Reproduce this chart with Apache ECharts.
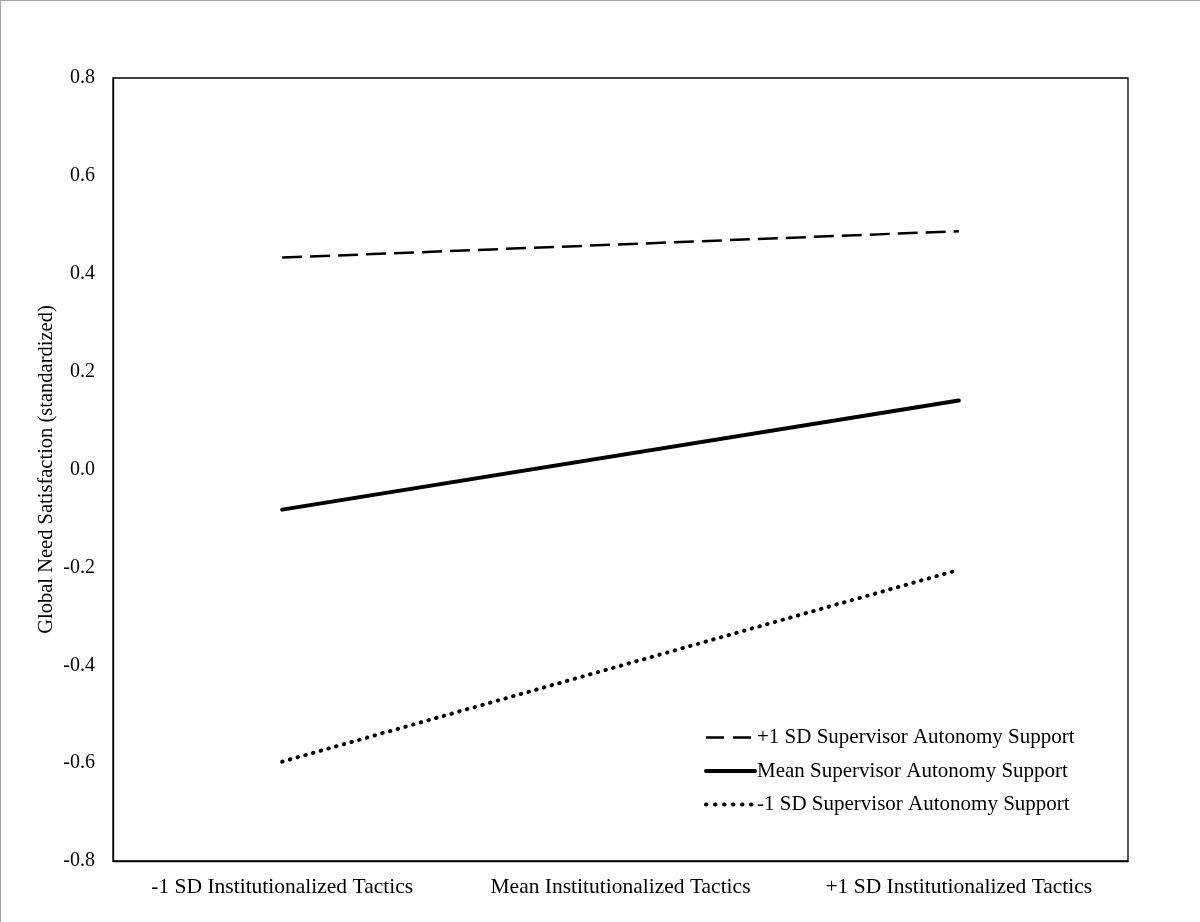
<!DOCTYPE html>
<html>
<head>
<meta charset="utf-8">
<script src="https://cdn.jsdelivr.net/npm/echarts@6/dist/echarts.min.js"></script>
<style>
  html, body { margin: 0; padding: 0; background: #fff; }
  #chart { width: 1200px; height: 922px; box-sizing: border-box; border-top: 1px solid #a6a6a6; border-left: 1px solid #a6a6a6; }
</style>
</head>
<body>
<div id="chart"></div>
<script>
// categories (x axis)
const categories = ["-1 SD Institutionalized Tactics", "Mean Institutionalized Tactics", "+1 SD Institutionalized Tactics"];

// simple slopes (no point drawn at the mean)
const highSupport = [0.433, null, 0.487];
const meanSupport = [-0.082, null, 0.141];
const lowSupport = [-0.597, null, -0.205];

const seriesNames = [
  "+1 SD Supervisor Autonomy Support",
  "Mean Supervisor Autonomy Support",
  "-1 SD Supervisor Autonomy Support"
];

const yTicks = { min: -0.8, max: 0.8, interval: 0.2 };

const FONT = "'Liberation Serif', 'Times New Roman', serif";

const DASHED = { width: 2.5, type: [20, 8] };
const SOLID = { width: 4, type: "solid", cap: "round" };
const DOTTED = { width: 4, type: [0.5, 7.5], cap: "round" };

const chart = echarts.init(document.getElementById("chart"));

function lineSeries(name, data, lineStyle) {
  return {
    name: name,
    type: "line",
    data: data,
    connectNulls: true,
    symbol: "none",
    showSymbol: false,
    silent: true,
    itemStyle: { color: "#000" },
    lineStyle: Object.assign({ color: "#000" }, lineStyle)
  };
}

chart.setOption({
  animation: false,
  textStyle: { fontFamily: FONT },
  grid: {
    left: 112,
    right: 72,
    top: 77,
    bottom: 61,
    show: true,
    borderColor: "#000",
    borderWidth: 1.3,
    backgroundColor: "#fff"
  },
  legend: {
    orient: "vertical",
    left: 698,
    top: 721,
    itemWidth: 49,
    itemHeight: 14,
    itemGap: 12.5,
    selectedMode: false,
    itemStyle: { opacity: 0 },
    textStyle: { fontFamily: FONT, fontSize: 21, color: "#000", padding: [0, 0, 0, -3] },
    data: [
      { name: seriesNames[0], lineStyle: { color: "#000", width: 2.5, type: [18, 9] } },
      { name: seriesNames[1], lineStyle: { color: "#000", width: 4, type: "solid" } },
      { name: seriesNames[2], lineStyle: { color: "#000", width: 4, type: [0.5, 8.5], cap: "round" } }
    ]
  },
  xAxis: {
    type: "category",
    data: categories,
    boundaryGap: true,
    axisLine: { show: true, onZero: false, lineStyle: { color: "#000", width: 1.3 } },
    axisTick: { show: false },
    splitLine: { show: false },
    axisLabel: { interval: 0, fontFamily: FONT, fontSize: 21.5, color: "#000", margin: 15 }
  },
  yAxis: {
    type: "value",
    min: yTicks.min,
    max: yTicks.max,
    interval: yTicks.interval,
    name: "Global Need Satisfaction (standardized)",
    nameLocation: "middle",
    nameGap: 56,
    nameMoveOverlap: false,
    nameTextStyle: { fontFamily: FONT, fontSize: 20.5, color: "#000" },
    axisLine: { show: true, lineStyle: { color: "#000", width: 1.3 } },
    axisTick: { show: false },
    splitLine: { show: false },
    axisLabel: {
      fontFamily: FONT,
      fontSize: 20,
      color: "#000",
      margin: 18,
      formatter: (v) => v.toFixed(1)
    }
  },
  series: [
    lineSeries(seriesNames[0], highSupport, DASHED),
    lineSeries(seriesNames[1], meanSupport, SOLID),
    lineSeries(seriesNames[2], lowSupport, DOTTED)
  ]
});
</script>
</body>
</html>
